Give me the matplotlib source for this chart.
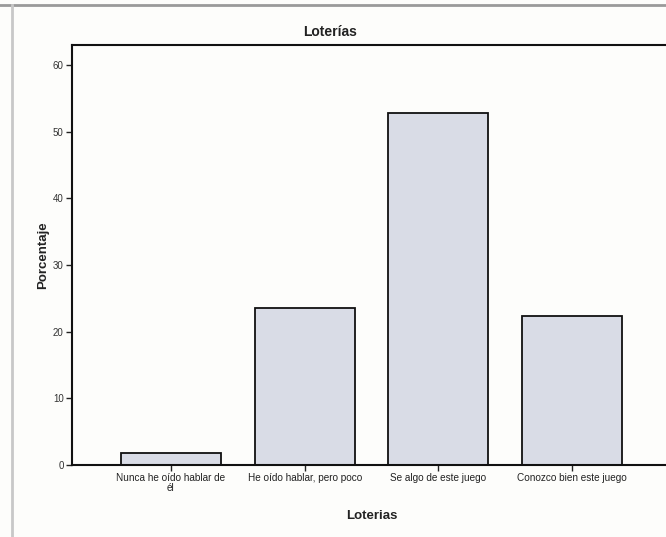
import matplotlib
matplotlib.use("Agg")
import matplotlib.pyplot as plt
from matplotlib.lines import Line2D

categories = ["Nunca he oído hablar de\nél", "He oído hablar, pero poco",
              "Se algo de este juego", "Conozco bien este juego"]
values = [1.8, 23.5, 52.8, 22.3]
yticks = [0, 10, 20, 30, 40, 50, 60]

plt.rcParams['font.family'] = ['Liberation Sans', 'DejaVu Sans']

W, H = 666, 537
fig = plt.figure(figsize=(W/100, H/100), dpi=100, facecolor='#fdfdfb')

# axes position in pixels: left 72, right 671, top 45, bottom 465
l, r, t, b = 72, 671, 45, 465
ax = fig.add_axes([l/W, 1 - b/H, (r-l)/W, (b-t)/H])
ax.set_facecolor('#fdfdfb')

x = list(range(len(categories)))
ax.bar(x, values, width=0.75, color='#d9dce6', edgecolor='#111111', linewidth=1.3, zorder=2)
ax.set_xlim(-0.74, 3.74)
ax.set_ylim(0, 63)
ax.set_yticks(yticks)
ax.set_yticklabels([str(v) for v in yticks], fontsize=7, color='#333333')
ax.set_xticks(x)
ax.set_xticklabels(categories, fontsize=7.2, color='#222222', linespacing=1.0)
ax.tick_params(axis='both', direction='out', length=4, width=1, color='#222222', pad=2)
for s in ax.spines.values():
    s.set_linewidth(1.5)
    s.set_color('#111111')

ax.set_ylabel("Porcentaje", fontsize=9.5, fontweight='bold', labelpad=3, color='#222222')
ax.set_xlabel("Loterias", fontsize=9.5, fontweight='bold', labelpad=12, color='#222222')
fig.text(330/W, 1 - 32/H, "Loterías", ha='center', va='center', fontsize=10, fontweight='bold', color='#222222')

# scanned page frame
fig.add_artist(Line2D([0, 1], [1 - 5/H, 1 - 5/H], transform=fig.transFigure, color='#9a9a9a', lw=2))
fig.add_artist(Line2D([12/W, 12/W], [0, 1 - 5/H], transform=fig.transFigure, color='#c8c8c8', lw=2))

fig.savefig("out.png", dpi=100, facecolor=fig.get_facecolor())
